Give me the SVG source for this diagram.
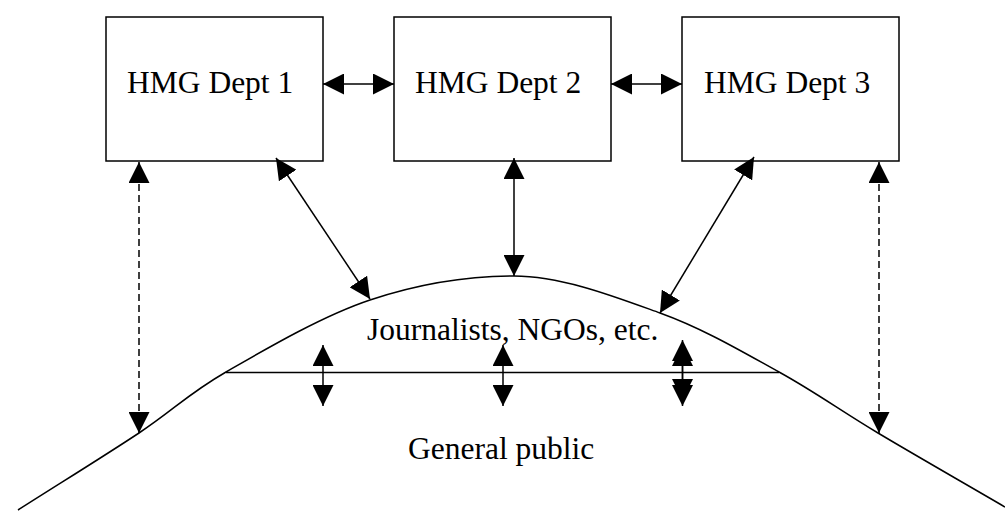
<svg xmlns="http://www.w3.org/2000/svg" width="1005" height="511" viewBox="0 0 1005 511">
<style>
.box{fill:#fff;stroke:#000;stroke-width:1.5}
.lbl{font-family:"Liberation Serif","Times New Roman",serif;font-size:31.5px;fill:#000}
.ln{fill:none;stroke:#000;stroke-width:1.5}
.c{fill:none;stroke:#000;stroke-width:1.5;marker-start:url(#ah);marker-end:url(#ah)}
.d{fill:none;stroke:#000;stroke-width:1.5;stroke-dasharray:7 4;marker-start:url(#ah);marker-end:url(#ah)}
</style>
<defs>
<marker id="ah" markerUnits="userSpaceOnUse" markerWidth="21" markerHeight="21" refX="21" refY="10.5" orient="auto-start-reverse" viewBox="0 0 21 21">
<path d="M0,0 L21,10.5 L0,21 z" fill="#000"/>
</marker>
</defs>
<rect width="1005" height="511" fill="#fff"/>
<g id="public">
<path class="ln" d="M18,510 C58.3,484.3 104.3,456 139,433 C173.7,410 187.5,394.2 226,372 C264.5,349.8 322,316 370,300 C418,284 466,276 514,276 C562,276 615.8,297 660,313 C704.2,329 742.7,352 779,372 C815.3,392 840.3,410.5 878,433 C915.7,455.5 962.7,482.3 1005,507"/>
<text class="lbl" x="408" y="459">General public</text>
</g>
<g id="journalists">
<line class="ln" x1="226" y1="372.5" x2="779" y2="372.5"/>
<text class="lbl" x="367" y="340">Journalists, NGOs, etc.</text>
</g>
<g id="dept1">
<rect class="box" x="106" y="17" width="217" height="144"/>
<text class="lbl" x="127" y="93">HMG Dept 1</text>
</g>
<g id="dept2">
<rect class="box" x="394" y="17" width="217" height="144"/>
<text class="lbl" x="415" y="93">HMG Dept 2</text>
</g>
<g id="dept3">
<rect class="box" x="682" y="17" width="217" height="144"/>
<text class="lbl" x="704" y="93">HMG Dept 3</text>
</g>
<g id="connectors">
<line class="c" x1="323" y1="84" x2="394" y2="84"/>
<line class="c" x1="611" y1="84" x2="682" y2="84"/>
<line class="c" x1="276" y1="158" x2="370" y2="299"/>
<line class="c" x1="514" y1="158" x2="514" y2="276"/>
<line class="c" x1="754" y1="157" x2="660" y2="313"/>
<line class="d" x1="139" y1="162" x2="139" y2="433"/>
<line class="d" x1="879" y1="162" x2="879" y2="433"/>
<line class="c" x1="323" y1="345" x2="323" y2="406"/>
<line class="c" x1="503" y1="345" x2="503" y2="406"/>
<line class="c" x1="682.5" y1="340" x2="682.5" y2="400"/>
<line class="c" x1="682.5" y1="345" x2="682.5" y2="406"/>
</g>
</svg>
